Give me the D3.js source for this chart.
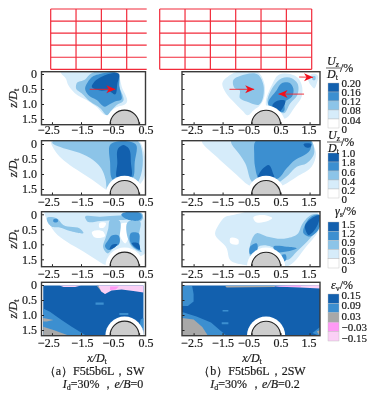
<!DOCTYPE html>
<html><head><meta charset="utf-8">
<script src="https://cdn.jsdelivr.net/npm/d3@7"></script>
<style>html,body{margin:0;padding:0;background:#fff}svg{display:block;filter:blur(0.4px)}text{font-family:"Liberation Serif",serif;fill:#1a1a1a;stroke:#1a1a1a;stroke-width:.2px}</style>
</head><body><svg id="c" width="383" height="394"></svg>
<script>
// ---------- tick labels and legend values ----------
const xTicks=[-2.5,-1.5,-0.5,0.5];
const xTicksB=[-2.5,-1.5,-0.5,0.5,1.5];
const zTicks=[0,0.5,1.0,1.5];
const legendUz1=["0.20","0.16","0.12","0.08","0.04","0"];
const legendUz2=["1.0","1.8","0.6","0.4","0.2","0"];
const legendGamma=["1.5","1.2","0.9","0.6","0.3","0"];
const legendEps=["0.15","0.09","0.03","−0.03","−0.15"];
const gridLeftCols=[0,1,2,3];
const gridRightCols=[0,1,2,3,4,5,6];
const gridRows=[0,1,2,3,4,5];

// ---------- contour levels, [x/Dt, z/Dt] ----------
const u1a_1=[[-2.17,0],[-0.22,0],[-0.1,.42],[0.05,.98],[-0.02,1.03],[-0.33,1.14],[-0.5,1.37],[-0.64,1.37],[-0.97,1.09],[-1.31,.87],[-1.71,.64],[-1.94,.37],[-2.03,.14]];
const u1a_2=[[-1.65,.31],[-1.36,.18],[-1.19,.01],[-.27,0],[-.18,.42],[-.06,.92],[-.27,1.03],[-.44,1.2],[-.59,1.37],[-.84,1.14],[-1.19,.92],[-1.48,.64],[-1.67,.48]];
const u1a_3=[[-1.36,.48],[-1.28,.29],[-1.07,.07],[-.85,0],[-.21,0],[-.18,.42],[-.13,.87],[-.33,.92],[-.5,1.0],[-.67,1.09],[-.96,.87],[-1.25,.7]];
const u1a_4=[[-1.13,.42],[-1.04,.26],[-.79,.09],[-.56,0],[-.19,0],[-.25,.33],[-.33,.68],[-.56,.55],[-.84,.55]];
const u2a_1=[[-2.51,.03],[.59,.03],[.57,1.3],[.3,1.5],[-.6,1.55],[-.75,1.45],[-1.1,1.2],[-1.5,.95],[-2.0,.62],[-2.3,.35]];
const u2a_2=[[-2.4,.03],[.55,.03],[.5,1.2],[.3,1.5],[-.6,1.55],[-.65,1.2],[-.8,.82],[-1.0,.6],[-1.42,.35],[-2.0,.17]];
const u2a_3=[[-.5,.03],[.4,.03],[.35,.6],[.27,1.15],[-.4,1.2],[-.5,.6]];
const u2a_4=[[-.25,.65],[-.18,.1],[-.04,.03],[.1,.1],[.22,.65],[.22,1.1],[-.25,1.15]];
const g3a_1=[[-2.74,.03],[.63,.03],[.65,1.35],[.3,1.5],[-.5,1.69],[-.64,1.69],[-.96,1.52],[-1.42,1.24],[-2.0,.91],[-2.4,.6],[-2.57,.36]];
const g3a_h1=[[-1.13,.61],[-.73,.58],[-.67,.71],[-1.07,.74]];
const g3a_h2=[[-.87,.3],[-.64,.3],[-.71,.44],[-.87,.44]];
const g3a_h3=[[-.1,.3],[.13,.3],[.13,.8],[.02,.97],[-.1,.85]];
const g3a_2a=[[-2.68,.13],[-2.34,.13],[-2.11,.36],[-1.48,.52],[-1.42,.6],[-1.88,.56],[-2.23,.44],[-2.51,.41],[-2.63,.3]];
const g3a_2b=[[-1.36,.11],[-.84,.08],[-.16,.04],[.63,.03],[.63,.13],[.53,.24],[.25,.16],[-.04,.19],[-.27,.19],[-.84,.22],[-1.3,.22]];
const g3a_2c=[[-.5,.19],[-.21,.19],[-.18,.8],[-.21,1.02],[-.33,1.08],[-.6,1.3],[-.73,1.13],[-.64,.74],[-.56,.47]];
const g3a_2d=[[.13,.24],[.53,.24],[.5,.69],[.53,1.13],[.59,1.24],[.25,1.08],[.13,.85]];
const g3a_3a=[[-.44,.71],[-.21,.71],[-.18,.97],[-.33,1.08],[-.56,1.19],[-.67,1.08],[-.56,.86]];
const g3a_3b=[[.21,.63],[.48,.63],[.51,1.02],[.53,1.19],[.25,1.02],[.17,.8]];
const g3a_3c=[[-.1,.04],[.59,.03],[.59,.11],[-.04,.1]];
const g3a_3d=[[-2.45,.17],[-2.3,.17],[-2.3,.25],[-2.45,.25]];
const g3a_4a=[[-.44,1.02],[-.25,1.0],[-.33,1.1],[-.52,1.17]];
const g3a_4b=[[.25,.97],[.48,.97],[.53,1.17],[.3,1.04]];
const e4a_4=[[-2.8,.02],[.65,.02],[.65,1.7],[-2.8,1.7]];
const e4a_3a=[[-2.8,.78],[-2.57,.89],[-2.17,1.17],[-1.82,1.39],[-1.3,1.7],[-2.8,1.7]];
const e4a_3b=[[.55,1.15],[.65,1.1],[.65,1.5],[.5,1.5]];
const e4a_3c=[[-1.0,.58],[-.72,.58],[-.72,.66],[-1.0,.66]];
const e4a_3d=[[-.18,.93],[.13,.93],[.13,1.0],[-.18,1.0]];
const e4a_ga=[[-2.8,1.39],[-2.45,1.5],[-1.88,1.7],[-2.8,1.7]];
const e4a_gb=[[-2.8,1.1],[-2.45,1.17],[-2.68,1.22],[-2.8,1.22]];
const e4a_gc=[[-.95,.03],[-.75,.03],[-.67,.2],[-.67,.3],[-.8,.22]];
const e4a_pa=[[-2.24,.02],[-1.5,.02],[-1.7,.07],[-2.1,.07]];
const e4a_pb=[[-.9,.02],[.65,.02],[.65,.25],[.3,.2],[-.1,.15],[-.45,.18],[-.67,.3],[-.8,.22]];
const e4a_hp=[[-.5,.05],[-.2,.05],[-.3,.15],[-.5,.17]];

const u1b_1a=[[-1.51,.31],[-1.18,0],[-.21,0],[-.05,.37],[-.12,.92],[-.38,1.2],[-.67,1.37],[-.78,1.26],[-1.18,.87],[-1.38,.64]];
const u1b_2a=[[-1.13,.2],[-.9,.07],[-.26,.03],[-.09,.37],[-.26,1.03],[-.67,.92],[-.9,.81],[-.92,.53],[-1.07,.48]];
const u1b_1b=[[.02,1.1],[.2,.37],[.43,.03],[.83,0],[1.11,.14],[1.23,.37],[1.23,.75],[1.0,1.09],[.6,1.48],[.45,1.4]];
const u1b_2b=[[.08,1.03],[.25,.42],[.54,.14],[.89,.14],[1.08,.31],[1.08,.7],[.83,.98],[.6,1.31],[.37,1.2]];
const u1b_3b=[[.08,1.03],[.37,.53],[.54,.31],[.83,.31],[.94,.48],[.89,.76],[.66,.92],[.6,1.26],[.46,1.26],[.14,1.14]];
const u1b_4b=[[.22,1.03],[.39,.89],[.66,.89],[.57,1.14],[.46,1.26],[.25,1.2]];
const u1b_1c=[[1.46,.09],[1.57,0],[1.77,.03],[1.75,.31],[1.66,.48],[1.54,.37]];
const u1b_2c=[[1.61,.07],[1.69,.07],[1.69,.2],[1.61,.2]];
const u2b_1=[[-2.16,.02],[1.63,.02],[1.72,.3],[1.57,.76],[1.06,1.09],[.6,1.37],[0,1.6],[-.61,1.37],[-1.01,1.03],[-1.59,.53]];
const u2b_2=[[-1.18,.02],[1.63,.02],[1.66,.3],[1.4,.64],[1.06,.76],[.77,1.03],[.48,1.26],[0,1.6],[-.49,1.26],[-.72,.64],[-.9,.37]];
const u2b_3=[[-.41,.02],[1.57,.02],[1.52,.2],[1.23,.42],[1.0,.53],[.71,.81],[.43,1.14],[-.26,1.14],[-.38,.76],[-.41,.3]];
const u2b_4a=[[-.3,1.2],[-.1,.81],[.08,.7],[.25,1.0],[.31,1.2]];
const u2b_4b=[[1.29,.02],[1.57,.02],[1.52,.11],[1.34,.09]];
const g3b_1=[[-1.64,.36],[-1.4,.08],[-1.13,.02],[1.8,0],[1.86,.36],[1.34,1.13],[.83,1.69],[-.72,1.69],[-1.24,1.52],[-1.36,1.13],[-1.76,.63]];
const g3b_h1=[[-1.24,.8],[-.95,.85],[-.95,.98],[-1.24,.95]];
const g3b_h2=[[-.44,.13],[.02,.04],[.2,.11],[-.38,.24]];
const g3b_2=[[-.55,1.02],[-.32,.63],[.02,.74],[.71,.8],[1.11,.63],[1.23,.36],[1.63,0],[1.8,0],[1.86,.36],[1.52,.8],[1.06,1.24],[.71,1.52],[.6,1.5],[.4,1.2],[-.2,1.05],[-.55,1.4]];
const g3b_3a=[[.25,1.11],[.71,1.08],[1.06,1.13],[.71,1.24],[.31,1.22]];
const g3b_3b=[[1.34,.36],[1.69,.02],[1.84,.02],[1.8,.52],[1.46,.74],[1.29,.63]];
const g3b_3c=[[-.55,1.08],[-.32,.97],[-.32,1.24],[-.55,1.33]];
const g3b_3d=[[.54,1.36],[.66,1.33],[.69,1.52],[.6,1.58]];
const g3b_4=[[1.34,.41],[1.66,.08],[1.82,.02],[1.75,.41],[1.46,.69]];
const e4b_4=[[-2.9,.02],[1.86,.02],[1.86,1.7],[-2.9,1.7]];
const e4b_3a=[[-2.9,.03],[-2.55,.03],[-2.5,.3],[-2.5,.55],[-2.7,.7],[-2.9,.7]];
const e4b_3b=[[-2.9,.9],[-2.4,1.05],[-1.9,1.25],[-1.6,1.5],[-1.35,1.7],[-2.9,1.7]];
const e4b_3c=[[-1.53,1.24],[-1.3,1.24],[-1.3,1.31],[-1.53,1.31]];
const e4b_3d=[[-1.5,.83],[-1.3,.83],[-1.3,.88],[-1.5,.88]];
const e4b_3e=[[1.6,1.6],[1.86,1.4],[1.86,1.7]];
const e4b_ga=[[-2.9,1.1],[-2.5,1.15],[-2.2,1.4],[-2.0,1.7],[-2.9,1.7]];
const e4b_gb=[[1.75,1.55],[1.86,1.5],[1.86,1.7]];
const e4b_gc=[[-1.41,.03],[.3,.03],[.3,.07],[-1.36,.08]];
const e4b_pa=[[.2,.03],[1.86,.01],[1.86,.12],[1.17,.08],[.5,.06]];
const e4b_hp=[[.3,.03],[1.2,.02],[1.2,.06],[.5,.05]];

// ---------- arrows [x0,z0,x1,z1] ----------
const arrows1a=[[-1.2,.51,-.32,.51]];
const arrows1b=[[-1.26,.51,-.41,.51],[1.31,.67,.43,.67],[1.14,.1,1.62,.11]];

// ---------- styles ----------
const C={l1:"#d6ecfa",l2:"#8cc4e8",l3:"#3c8fd0",l4:"#1260ae",g:"#a8a8a8",hp:"#ff99f5",lp:"#fbd0f6",w:"#fff"};
const svg=d3.select("#c");

const columns={
  a:{x0:41.5,x1:145.5,dom:[-2.86,0.72],ticks:xTicks,labels:true,nudge:[-3.5,1,3,6.5]},
  b:{x0:182,x1:320,dom:[-2.9,1.86],ticks:xTicksB,labels:false,nudge:[-2,0,-3,0,-1]}
};
const rows=[{t:71.7,b:124.7,zero:74,pad:1},{t:140.7,b:195,zero:144,pad:2},{t:211.7,b:266.7,zero:214.3,pad:2.5},{t:282.3,b:335.7,zero:285,pad:2.5}];

const panels=[
 {col:"a",row:0,layers:[[u1a_1,"l1"],[u1a_2,"l2"],[u1a_3,"l3"],[u1a_4,"l4"]],arrows:arrows1a},
 {col:"a",row:1,layers:[[u2a_1,"l1"],[u2a_2,"l2"],[u2a_3,"l3"],[u2a_4,"l4"]]},
 {col:"a",row:2,layers:[[g3a_1,"l1"],[g3a_h1,"w"],[g3a_h2,"w"],[g3a_h3,"w"],[g3a_2a,"l2"],[g3a_2b,"l2"],[g3a_2c,"l2"],[g3a_2d,"l2"],[g3a_3a,"l3"],[g3a_3b,"l3"],[g3a_3c,"l3"],[g3a_3d,"l3"],[g3a_4a,"l4"],[g3a_4b,"l4"]]},
 {col:"a",row:3,sharp:true,layers:[[e4a_4,"l4"],[e4a_3a,"l3"],[e4a_3b,"l3"],[e4a_3c,"l3"],[e4a_3d,"l3"],[e4a_ga,"g"],[e4a_gb,"g"],[e4a_gc,"g"],[e4a_pa,"lp"],[e4a_pb,"lp"],[e4a_hp,"hp"]]},
 {col:"b",row:0,layers:[[u1b_1a,"l1"],[u1b_2a,"l2"],[u1b_1b,"l1"],[u1b_2b,"l2"],[u1b_3b,"l3"],[u1b_4b,"l4"],[u1b_1c,"l1"],[u1b_2c,"l2"]],arrows:arrows1b},
 {col:"b",row:1,layers:[[u2b_1,"l1"],[u2b_2,"l2"],[u2b_3,"l3"],[u2b_4a,"l4"],[u2b_4b,"l4"]]},
 {col:"b",row:2,layers:[[g3b_1,"l1"],[g3b_h1,"w"],[g3b_h2,"w"],[g3b_2,"l2"],[g3b_3a,"l3"],[g3b_3b,"l3"],[g3b_3c,"l3"],[g3b_3d,"l3"],[g3b_4,"l4"]]},
 {col:"b",row:3,sharp:true,layers:[[e4b_4,"l4"],[e4b_3a,"l3"],[e4b_3b,"l3"],[e4b_3c,"l3"],[e4b_3d,"l3"],[e4b_3e,"l3"],[e4b_ga,"g"],[e4b_gb,"g"],[e4b_gc,"g"],[e4b_pa,"lp"],[e4b_hp,"hp"]]}
];

// red grid
const gy=d3.scaleLinear().domain([0,5]).range([9,69.3]);
const gxL=d3.scaleLinear().domain([0,3]).range([50.7,126.7]);
const gxR=d3.scaleLinear().domain([0,6]).range([159.7,311.7]);
function grid(cols,sx,xEnd){
  const g=svg.append("g").attr("stroke","#f22a3a").attr("stroke-width",1.2).attr("fill","none");
  g.selectAll(".v").data(cols).join("line").attr("x1",d=>sx(d)).attr("x2",d=>sx(d)).attr("y1",gy(0)).attr("y2",gy(5));
  g.selectAll(".h").data(gridRows).join("line").attr("x1",sx(0)).attr("x2",xEnd).attr("y1",d=>gy(d)).attr("y2",d=>gy(d));
}
grid(gridLeftCols,gxL,146.7);
grid(gridRightCols,gxR,gxR(6));

panels.forEach((p,i)=>{
  const c=columns[p.col],r=rows[p.row];
  const sx=d3.scaleLinear().domain(c.dom).range([c.x0,c.x1]);
  const sz=d3.scaleLinear().domain([0,1]).range([r.zero,r.zero+30]);
  const cid="clip"+i;
  svg.append("clipPath").attr("id",cid).append("rect").attr("x",c.x0).attr("y",r.t).attr("width",c.x1-c.x0).attr("height",r.b-r.t);
  const g=svg.append("g").attr("clip-path",`url(#${cid})`);
  const line=d3.line().x(d=>sx(d[0])).y(d=>sz(d[1])).curve(p.sharp?d3.curveLinearClosed:d3.curveCatmullRomClosed.alpha(1));
  g.selectAll("path.f").data(p.layers).join("path").attr("class","f").attr("d",d=>line(d[0])).attr("fill",d=>C[d[1]]);
  const cx=sx(0),cy=r.b,ru=sx(0.5)-sx(0),rh=sx(0.66)-sx(0);
  g.append("circle").attr("cx",cx).attr("cy",cy).attr("r",rh).attr("fill","#fff");
  g.append("circle").attr("cx",cx).attr("cy",cy).attr("r",ru).attr("fill","#cdcdcd").attr("stroke","#222").attr("stroke-width",1.1);
  (p.arrows||[]).forEach(a=>{
    const x0=sx(a[0]),x1=sx(a[2]),y0=sz(a[1]),y1=sz(a[3]),s=Math.sign(x1-x0);
    svg.append("line").attr("x1",x0).attr("y1",y0).attr("x2",x1).attr("y2",y1).attr("stroke","#f2202a").attr("stroke-width",.9);
    svg.append("path").attr("fill","#f2101c")
      .attr("d",d3.line()([[x1,y1],[x1-s*9,y1-4],[x1-s*6.5,y1],[x1-s*9,y1+4]])+"Z");
  });
  const ax=svg.append("g").attr("transform",`translate(0,${r.b})`)
     .call(d3.axisBottom(sx).tickValues(c.ticks).tickSize(-2.5).tickPadding(r.pad).tickFormat(d=>d3.format(".1f")(d).replace("-","−")));
  const ay=svg.append("g").attr("transform",`translate(${c.x0},0)`)
     .call(d3.axisLeft(sz).tickValues(zTicks).tickSize(-2.5).tickPadding(4.5).tickFormat(d=>d===0?"0":d3.format(".1f")(d)));
  [ax,ay].forEach(s=>{s.select(".domain").remove();s.selectAll("line").attr("stroke","#222");});
  [ax,ay].forEach(s=>s.selectAll("text").attr("font-size",12).attr("font-family","Liberation Serif"));
  ax.selectAll("text").attr("dx",(d,k)=>c.nudge[k]);
  if(!c.labels) ay.selectAll("text").remove();
  svg.append("rect").attr("x",c.x0).attr("y",r.t).attr("width",c.x1-c.x0).attr("height",r.b-r.t).attr("fill","none").attr("stroke","#3a3a3a").attr("stroke-width",1.4);
  if(c.labels){
    const t=svg.append("text").attr("transform",`translate(17,${(r.t+r.b)/2}) rotate(-90)`).attr("text-anchor","middle").attr("font-size",12);
    t.append("tspan").attr("font-style","italic").text("z/D");
    t.append("tspan").attr("font-size",8).attr("dy",2).text("t");
  }
});

// legends
function legend(top,h,labels,cols,ys){
  const g=svg.append("g");
  g.selectAll("rect").data(cols).join("rect").attr("x",328).attr("width",11).attr("y",(d,i)=>top+i*h).attr("height",h).attr("fill",d=>d).attr("stroke","#bbb").attr("stroke-width",.4);
  g.selectAll("text").data(labels).join("text").attr("x",341.5).attr("y",(d,i)=>ys+i*(labels.length>5?9.1:10.8)+3.6).attr("font-size",11).text(d=>d);
}
legend(83,9,legendUz1,[C.l4,C.l3,C.l2,C.l1,C.w],83.5);
legend(153,9,legendUz2,[C.l4,C.l3,C.l2,C.l1,C.w],153.7);
legend(222,9.2,legendGamma,[C.l4,C.l3,C.l2,C.l1,C.w],224);
legend(294,9.4,legendEps,[C.l4,C.l3,C.g,C.hp,C.lp],295);

function frac(x,y){
  const u=svg.append("text").attr("x",x).attr("y",y).attr("font-size",12);
  u.append("tspan").attr("font-style","italic").text("U");
  u.append("tspan").attr("font-style","italic").attr("font-size",8).attr("dy",2).text("z");
  svg.append("line").attr("x1",x-1).attr("x2",x+14).attr("y1",y+3).attr("y2",y+3).attr("stroke","#222").attr("stroke-width",.7);
  const d=svg.append("text").attr("x",x).attr("y",y+13).attr("font-size",12);
  d.append("tspan").attr("font-style","italic").text("D");
  d.append("tspan").attr("font-size",8).attr("dy",2).text("t");
  svg.append("text").attr("x",x+13).attr("y",y+7).attr("font-size",12).text("/%");
}
frac(327,65);
frac(328,139);
const gt=svg.append("text").attr("x",335).attr("y",215).attr("font-size",12);
gt.append("tspan").attr("font-style","italic").text("γ");
gt.append("tspan").attr("font-size",8).attr("dy",2).text("s");
gt.append("tspan").attr("dy",-2).text("/%");
const et=svg.append("text").attr("x",331).attr("y",289).attr("font-size",12);
et.append("tspan").attr("font-style","italic").text("ε");
et.append("tspan").attr("font-size",8).attr("dy",2).text("v");
et.append("tspan").attr("dy",-2).text("/%");

// captions
function xlab(cx,y){
  const t=svg.append("text").attr("x",cx).attr("y",y).attr("text-anchor","middle").attr("font-size",12);
  t.append("tspan").attr("font-style","italic").text("x/D");
  t.append("tspan").attr("font-size",8).attr("dy",2).text("t");
}
xlab(97,362); xlab(252,362);
function cap(cx,y,s){svg.append("text").attr("x",cx).attr("y",y).attr("text-anchor","middle").attr("font-size",12).attr("font-family","Liberation Serif, Noto Sans CJK SC").text(s);}
cap(94,375,"（a）F5t5b6L，SW");
cap(252,375,"（b）F5t5b6L，2SW");
function cond(cx,y,id,eb){
  const t=svg.append("text").attr("x",cx).attr("y",y).attr("text-anchor","middle").attr("font-size",12);
  t.append("tspan").attr("font-style","italic").text("I");
  t.append("tspan").attr("font-size",8).attr("dy",2).text("d");
  t.append("tspan").attr("dy",-2).text("="+id+"% ，");
  t.append("tspan").attr("font-style","italic").text("e/B");
  t.append("tspan").text("="+eb);
}
cond(103,388,"30","0");
cond(255,388,"30","0.2");
</script></body></html>
